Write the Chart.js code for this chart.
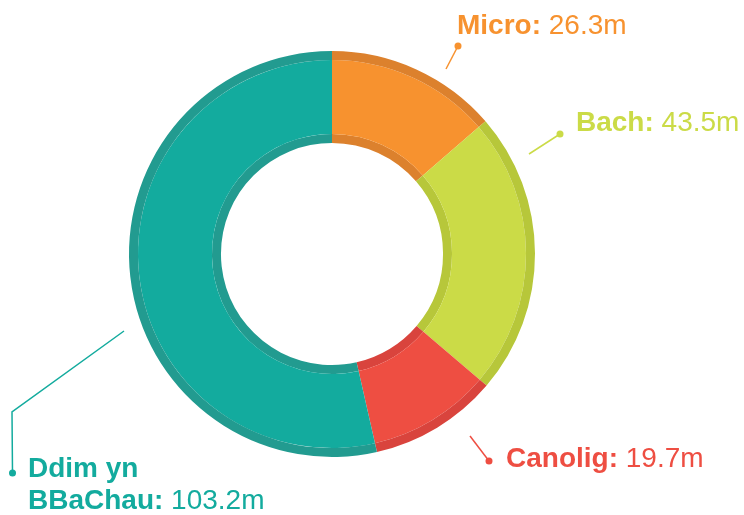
<!DOCTYPE html>
<html>
<head>
<meta charset="utf-8">
<script src="https://cdn.jsdelivr.net/npm/chart.js@4"></script>
<style>
html,body{margin:0;padding:0;background:#fff;}
#wrap{width:744px;height:515px;position:relative;}
</style>
</head>
<body>
<div id="wrap"><canvas id="c" width="744" height="515"></canvas></div>
<script>
// Data
const categories = ["Micro", "Bach", "Canolig", "Ddim yn BBaChau"];
const labelLines = [["Micro:"], ["Bach:"], ["Canolig:"], ["Ddim yn", "BBaChau:"]];
const values = [26.3, 43.5, 19.7, 103.2];
const valueLabels = ["26.3m", "43.5m", "19.7m", "103.2m"];

// Styles
const mainColors = ["#F7922F", "#CBDB47", "#EE4E42", "#13AB9E"];
const rimColors  = ["#DC812D", "#B7C73A", "#D9443D", "#229B90"];

// Label layout (offsets relative to chart centre)
const labelLayout = [
  { line: [[114, -185], [126, -208]], text: [125, -220] },
  { line: [[197, -100], [228, -120]], text: [244, -123] },
  { line: [[138, 182], [157, 207]], text: [174, 213] },
  { line: [[-208, 77], [-320, 158], [-319.5, 219]], text: [-304, 223] }
];

const labelPlugin = {
  id: 'calloutLabels',
  afterDraw(chart) {
    const ctx = chart.ctx;
    const arc = chart.getDatasetMeta(0).data[0];
    const cx = arc.x, cy = arc.y;
    ctx.save();
    categories.forEach((cat, i) => {
      const L = labelLayout[i];
      const col = mainColors[i];
      ctx.strokeStyle = col;
      ctx.fillStyle = col;
      ctx.lineWidth = 1.5;
      ctx.beginPath();
      L.line.forEach((p, k) => {
        if (k === 0) ctx.moveTo(cx + p[0], cy + p[1]);
        else ctx.lineTo(cx + p[0], cy + p[1]);
      });
      ctx.stroke();
      const last = L.line[L.line.length - 1];
      ctx.beginPath();
      ctx.arc(cx + last[0], cy + last[1], 3.5, 0, Math.PI * 2);
      ctx.fill();
      const lines = labelLines[i];
      const tx = cx + L.text[0], ty = cy + L.text[1];
      ctx.textBaseline = 'alphabetic';
      ctx.textAlign = 'left';
      lines.forEach((ln, k) => {
        const y = ty + k * 32;
        ctx.font = 'bold 28px "Liberation Sans", Arial, sans-serif';
        ctx.fillText(ln, tx, y);
        if (k === lines.length - 1) {
          const w = ctx.measureText(ln + ' ').width;
          ctx.font = '28px "Liberation Sans", Arial, sans-serif';
          ctx.fillText(valueLabels[i], tx + w, y);
        }
      });
    });
    ctx.restore();
  }
};

new Chart(document.getElementById('c'), {
  type: 'doughnut',
  data: {
    labels: categories,
    datasets: [
      { data: values, backgroundColor: rimColors, borderWidth: 0, hoverBorderWidth: 0, weight: 9 },
      { data: values, backgroundColor: mainColors, borderWidth: 0, hoverBorderWidth: 0, weight: 74 },
      { data: values, backgroundColor: rimColors, borderWidth: 0, hoverBorderWidth: 0, weight: 9 }
    ]
  },
  options: {
    responsive: false,
    animation: false,
    cutout: '54.7%',
    layout: { padding: { left: 129, right: 209, top: 51, bottom: 58 } },
    plugins: { legend: { display: false }, tooltip: { enabled: false } }
  },
  plugins: [labelPlugin]
});
</script>
</body>
</html>
